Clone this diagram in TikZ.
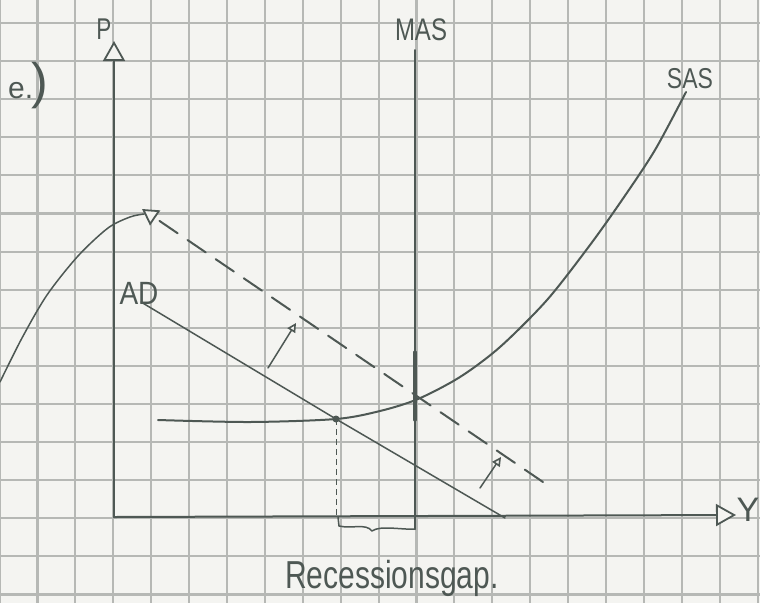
\documentclass[tikz,border=0pt]{standalone}
\usepackage{fontspec}
\setmainfont{Liberation Sans}
\usetikzlibrary{arrows.meta}
\definecolor{paper}{RGB}{244,244,241}
\definecolor{gridc}{RGB}{182,184,181}
\definecolor{pencil}{RGB}{78,88,84}
\begin{document}
\begin{tikzpicture}[x=1pt,y=-1pt,
  gridline/.style={gridc,line width=2.1pt},
  pen/.style={pencil,line width=2pt,line cap=round,line join=round},
  thinpen/.style={pen,line width=1.5pt},
  dashpen/.style={pen,dash pattern=on 22pt off 12pt},
  hand/.style={text=pencil,inner sep=0pt},
  bigtip/.style={-{Triangle[length=20pt,width=22pt,line width=1.8pt,fill=paper]}},
  midtip/.style={-{Triangle[length=16pt,width=18pt,line width=1.8pt,fill=paper]}},
  smalltip/.style={-{Triangle[length=9pt,width=9pt,line width=1.6pt,fill=paper]}}
]
\fill[paper] (0,0) rectangle (760,603);
\useasboundingbox (0,0) rectangle (760,603);
\foreach \k in {0,...,20} \draw[gridline] ({-0.4+37.9*\k},0) -- ({-0.4+37.9*\k},603);
\foreach \k in {0,...,15} \draw[gridline] (0,{23+38.1*\k}) -- (760,{23+38.1*\k});

% coordinates
\coordinate (O) at (114,517);
\coordinate (Ptop) at (114,41);
\coordinate (Yend) at (736,515);
\coordinate (MAStop) at (415,50);
\coordinate (MASbot) at (415,529);
\coordinate (MASa) at (415,352);
\coordinate (MASb) at (415,420);
\coordinate (ADstart) at (141,302);
\coordinate (E1) at (336,419);
\coordinate (ADend) at (505,518);
\coordinate (E1foot) at (336,517);
\coordinate (E0) at (415,400);
\coordinate (AD2start) at (543,482);
\coordinate (AD2end) at (142,209);
\coordinate (S1a) at (268,368);
\coordinate (S1b) at (296,323);
\coordinate (S2a) at (480,488);
\coordinate (S2b) at (501,457);

% axes
\draw[pen,bigtip] (O) -- (Ptop);
\draw[pen,bigtip] (O) -- (Yend);

% MAS
\draw[pen] (MAStop) -- (MASbot);
\draw[pen,line width=3.2pt] (MASa) -- (MASb);

% AD
\draw[thinpen] (ADstart) -- (E1) -- (ADend);
\fill[pencil] (E1) circle (3.5);
\draw[pencil,line width=1pt,dash pattern=on 6pt off 4pt] (E1) -- (E1foot);

% bracket
\draw[thinpen] (338,517) -- (339,526) .. controls (352,529) and (366,523) .. (372,531)
  .. controls (380,525) and (402,530) .. (MASbot);

% shifted AD (dashed)
\draw[dashpen,midtip] (AD2start) -- (AD2end);
\draw[thinpen] plot[smooth] coordinates {(0,382) (22,338) (47,295) (78,256) (108,228) (130,217) (144,214)};

% shift arrows
\draw[thinpen,smalltip] (S1a) -- (S1b);
\draw[thinpen,smalltip] (S2a) -- (S2b);

% SAS
\draw[pen] plot[smooth] coordinates {(158,420) (250,422) (336,419) (380,411) (418,399) (460,377) (500,347) (547,300) (590,245) (622,200) (655,150) (686,92)};

% labels
\node[hand,font=\fontsize{30}{30}\selectfont] (Plab) at (104,29) {\scalebox{0.75}[1]{P}};
\node[hand,font=\fontsize{24}{24}\selectfont] (MASlab) at (421,30) {\scalebox{1}[1.3]{MAS}};
\node[hand,font=\fontsize{23}{23}\selectfont] (SASlab) at (690,79) {\scalebox{1}[1.25]{SAS}};
\node[hand,font=\fontsize{28}{28}\selectfont] (ADlab) at (139,293) {\scalebox{1}[1.15]{AD}};
\node[hand,font=\fontsize{34}{34}\selectfont] (Ylab) at (748,510) {Y};
\node[hand,font=\fontsize{30}{30}\selectfont] (elab) at (28,86) {e.\kern-2pt{\fontsize{50}{50}\selectfont)}};
\node[hand,font=\fontsize{30}{30}\selectfont] (gaplab) at (392,578) {\scalebox{1}[1.3]{Recessionsgap.}};
\end{tikzpicture}
\end{document}
